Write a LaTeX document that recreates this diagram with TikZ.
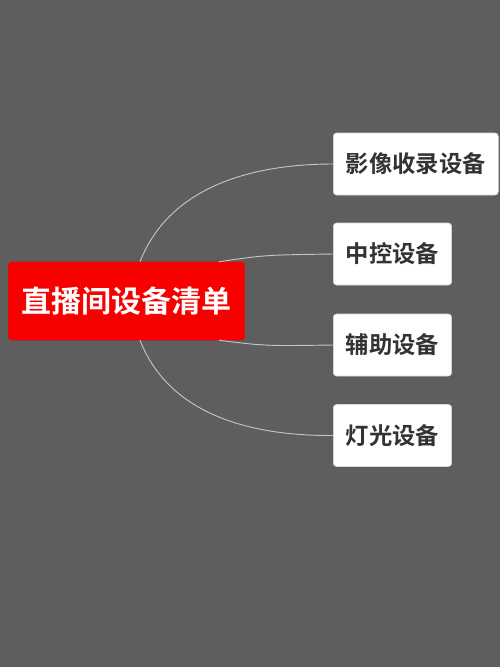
\documentclass[tikz,border=0pt]{standalone}
\usepackage{fontspec}
\newfontfamily\cjkbold{Noto Sans CJK SC Bold}
\usetikzlibrary{arrows.meta}
\definecolor{bggray}{HTML}{5E5E5E}
\definecolor{rootred}{HTML}{F60000}
\definecolor{edgegray}{HTML}{C4C4C4}
\definecolor{itemtext}{HTML}{333333}
\tikzset{
root/.style={
  draw=rootred,
  fill=rootred,
  rounded corners=2pt,
  text=white,
  font=\cjkbold\fontsize{22.5}{24}\selectfont,
  inner xsep=9.6pt,
  minimum height=58.5pt
  }
}
\tikzset{
item/.style={
  draw=white!85!black,
  fill=white,
  rounded corners=2.5pt,
  text=itemtext,
  font=\cjkbold\fontsize{17.5}{19}\selectfont,
  inner xsep=9.4pt,
  minimum height=46.5pt,
  anchor=west
  }
}
\tikzstyle{edge} = [draw=edgegray,line width=0.7pt]
\begin{document}
\begin{tikzpicture}[x=0.75pt, y=-0.75pt]
	\fill[bggray] (0,0) rectangle (500,667);
	\path[use as bounding box] (0,0) rectangle (500,667);

	%vertices
	\node (vroot) at (126.5, 301) [root] {直播间设备清单};

	\node (v0) at (333, 164) [item] {影像收录设备};
	\node (v1) at (333, 254) [item] {中控设备};
	\node (v2) at (333, 345) [item] {辅助设备};
	\node (v3) at (333, 435.5) [item] {灯光设备};

	%edges
	\draw[edge] (vroot.71) .. controls (170, 185) and (255, 164) .. (v0.west);
	\draw[edge] (vroot.23) .. controls (265, 255) .. (v1.west);
	\draw[edge] (vroot.-23) .. controls (265, 346) .. (v2.west);
	\draw[edge] (vroot.-71) .. controls (170, 417) and (255, 436) .. (v3.west);
\end{tikzpicture}
\end{document}
